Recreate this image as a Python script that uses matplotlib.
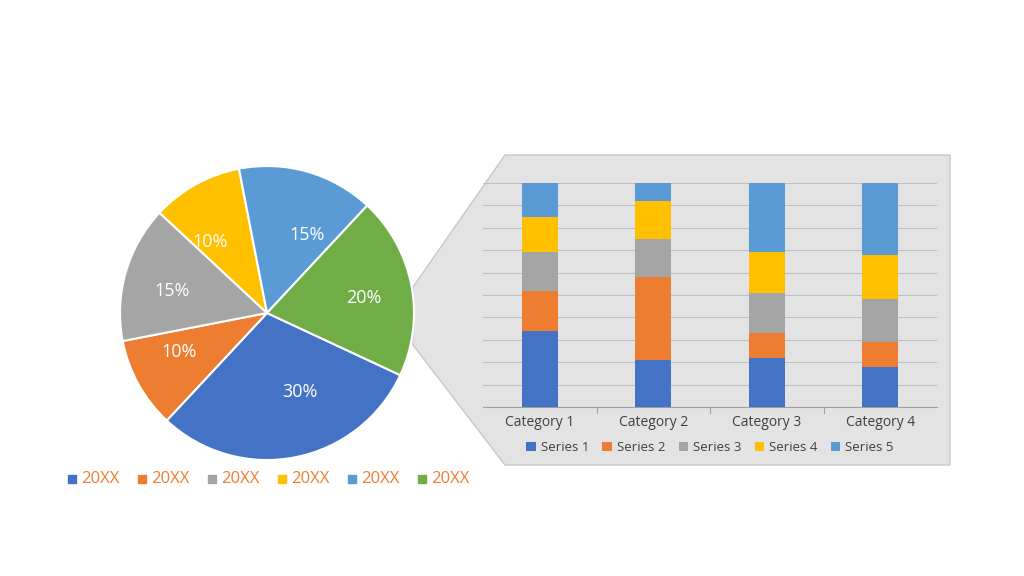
import matplotlib
matplotlib.use("Agg")
import matplotlib.pyplot as plt
from matplotlib.patches import Polygon, Rectangle

pie_labels = ["20XX"] * 6
pie_values = [30, 10, 15, 10, 15, 20]
colors = ["#4472C4", "#ED7D31", "#A5A5A5", "#FFC000", "#5B9BD5", "#70AD47"]

categories = ["Category 1", "Category 2", "Category 3", "Category 4"]
series_names = ["Series 1", "Series 2", "Series 3", "Series 4", "Series 5"]
series = [
    [34, 21, 22, 18],
    [18, 37, 11, 11],
    [17, 17, 18, 19],
    [16, 17, 18, 20],
    [15, 8, 31, 32],
]

plt.rcParams['font.family'] = ['Open Sans', 'DejaVu Sans']
W, H = 1024, 576
fig = plt.figure(figsize=(W/100, H/100), dpi=100)

bg = fig.add_axes([0, 0, 1, 1]); bg.set_xlim(0, W); bg.set_ylim(H, 0); bg.axis('off')
bg.add_patch(Polygon([(413, 287), (505, 155), (950, 155), (950, 465), (505, 465), (413, 345)],
                     closed=True, facecolor="#E3E3E3", edgecolor="#C8C8C8", lw=1))

cx, cy, r = 267, 313, 147
pa = fig.add_axes([(cx-r)/W, (H-cy-r)/H, 2*r/W, 2*r/H])
wedges, texts = pa.pie(pie_values, colors=colors, startangle=-25, counterclock=False,
                       labels=[f"{v}%" for v in pie_values], labeldistance=0.55,
                       wedgeprops=dict(edgecolor="white", linewidth=1.5),
                       textprops=dict(color="white", fontsize=13))
pa.set_xlim(-1, 1); pa.set_ylim(-1, 1)
pa.set_aspect('equal')

x0 = 68
for i, (lab, c) in enumerate(zip(pie_labels, colors)):
    x = x0 + i*70
    bg.add_patch(Rectangle((x, 475), 8, 8, color=c))
    bg.text(x+13, 479, lab, color="#ED7D31", fontsize=12, va='center')

ba = fig.add_axes([483/W, (H-407)/H, 454/W, 224/H])
ba.set_facecolor("none")
x = range(len(categories))
bottom = [0]*4
for name, vals, c in zip(series_names, series, colors):
    ba.bar(x, vals, 0.32, bottom=bottom, color=c, label=name, zorder=3)
    bottom = [b+v for b, v in zip(bottom, vals)]
ba.set_ylim(0, 100)
ba.set_xlim(-0.5, 3.5)
ba.set_yticks(range(0, 101, 10))
ba.yaxis.grid(True, color="#BFBFBF", lw=0.8, zorder=0)
ba.tick_params(axis='y', left=False, labelleft=False)
ba.set_xticks(list(x)); ba.set_xticklabels(categories, fontsize=10, color="#404040")
ba.tick_params(axis='x', length=0, pad=6)
for s in ["top", "right", "left"]:
    ba.spines[s].set_visible(False)
ba.spines["bottom"].set_color("#A0A0A0")
for t in [0.5, 1.5, 2.5]:
    ba.plot([t, t], [0, -2.5], color="#A0A0A0", lw=0.8, clip_on=False)
ba.legend(loc='upper center', bbox_to_anchor=(0.5, -0.1), ncol=5, frameon=False,
          fontsize=9.5, handlelength=0.7, handleheight=0.7, columnspacing=1.0,
          handletextpad=0.4, labelcolor="#404040")

fig.savefig("out.png", dpi=100)
